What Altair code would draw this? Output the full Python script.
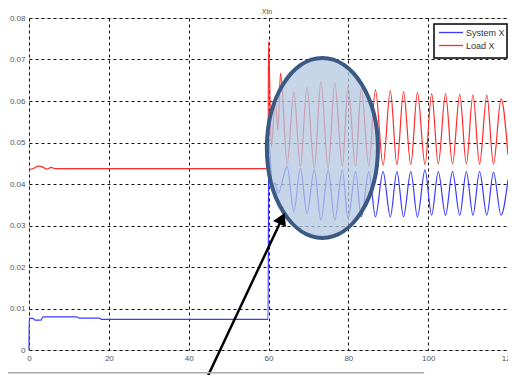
import altair as alt
import pandas as pd

# ---- data ----
sys_t = [0, 0.05, 1.0, 1.5, 3.0, 3.5, 12.0, 12.5, 17.6, 18.2, 59.9, 60.05, 61.0, 61.6, 62.4,
         64.68, 66.34, 67.99, 69.65, 71.47, 73.13, 74.95, 76.60, 78.51, 79.92, 81.82, 83.23,
         85.14, 86.79, 88.70, 90.52, 92.17, 93.83, 95.65, 97.31, 99.21, 100.87, 102.53, 104.35,
         106.09, 107.91, 109.57, 111.22, 112.88, 114.70, 116.36, 118.26, 120.0]
sys_v = [0.0, 0.0076, 0.0076, 0.0072, 0.0072, 0.0080, 0.0080, 0.0077, 0.0077, 0.0074, 0.0074,
         0.0506, 0.0394, 0.0403, 0.0378,
         0.0442, 0.0333, 0.0438, 0.0329, 0.0434, 0.0313, 0.0434, 0.0313, 0.0434, 0.0317, 0.0430,
         0.0321, 0.0430, 0.0321, 0.0430, 0.0321, 0.0430, 0.0321, 0.0430, 0.0321, 0.0434, 0.0325,
         0.0430, 0.0325, 0.0430, 0.0325, 0.0430, 0.0325, 0.0430, 0.0325, 0.0428, 0.0325, 0.0410]

load_t = [0, 0.5, 1.2, 2.3, 3.6, 4.4, 5.6, 6.5, 59.9, 60.0, 60.7, 61.7, 62.36, 63.02,
          64.68, 66.34, 67.99, 69.65, 71.47, 73.13, 74.95, 76.60, 78.51, 79.92, 81.82, 83.23,
          85.14, 86.79, 88.70, 90.52, 92.17, 93.83, 95.65, 97.31, 99.21, 100.87, 102.53, 104.35,
          106.09, 107.91, 109.57, 111.22, 112.88, 114.70, 116.36, 118.26, 120.0]
load_v = [0.0436, 0.0436, 0.0438, 0.0443, 0.0440, 0.0436, 0.0440, 0.0437, 0.0437, 0.0743,
          0.0490, 0.0600, 0.0530, 0.0667,
          0.0448, 0.0622, 0.0442, 0.0632, 0.0437, 0.0647, 0.0437, 0.0643, 0.0442, 0.0635, 0.0443,
          0.0630, 0.0444, 0.0627, 0.0445, 0.0625, 0.0446, 0.0622, 0.0447, 0.0620, 0.0447, 0.0618,
          0.0448, 0.0617, 0.0448, 0.0616, 0.0448, 0.0615, 0.0448, 0.0614, 0.0448, 0.0605, 0.0470]

series_names = ["System X", "Load X"]
series_colors = ["#3b3bff", "#ff2a2a"]
title_text = "Xtn"

x_ticks = [0, 20, 40, 60, 80, 100, 120]
y_ticks = [0, 0.01, 0.02, 0.03, 0.04, 0.05, 0.06, 0.07, 0.08]

# annotation anchors (data units)
ellipse_center = (73.5, 0.0487)
arrow_start = (44.8, -0.0063)
arrow_head = (63.4, 0.0317)
bottom_line = (-7.5, 99.0, -0.0055)

# ---- build table ----
rows = []
for i, (t, v) in enumerate(zip(sys_t, sys_v)):
    rows.append({"t": t, "v": v, "series": "System X", "ord": i})
for i, (t, v) in enumerate(zip(load_t, load_v)):
    rows.append({"t": t, "v": v, "series": "Load X", "ord": i})
df = pd.DataFrame(rows)

xscale = alt.Scale(domain=[0, 120], nice=False, zero=False)
yscale = alt.Scale(domain=[0, 0.08], nice=False, zero=False)

FONT = "Liberation Sans"

lines = alt.Chart(df).mark_line(strokeWidth=1.2, interpolate="monotone").encode(
    x=alt.X("t:Q", scale=xscale,
            axis=alt.Axis(values=x_ticks, title=None, grid=True, gridDash=[3, 3],
                          gridColor="#111", gridWidth=1, ticks=False, domain=False,
                          labelFontSize=8, labelColor="#555", labelPadding=4, labelFont=FONT,
                          labelFlush=False)),
    y=alt.Y("v:Q", scale=yscale,
            axis=alt.Axis(values=y_ticks, title=None, grid=True, gridDash=[3, 3],
                          gridColor="#111", gridWidth=1, ticks=False, domain=False,
                          labelFontSize=8, labelColor="#555", labelPadding=4, labelFont=FONT,
                          labelFlush=False,
                          labelExpr="datum.value == 0 ? '0' : format(datum.value, '.2f')")),
    color=alt.Color("series:N", scale=alt.Scale(domain=series_names, range=series_colors),
                    legend=None),
    order="ord:Q",
)

one = pd.DataFrame({"a": [0]})

# ellipse highlight (custom symbol, cubic-bezier ellipse)
k = 0.5523
rx = 0.617
ell_path = (f"M {rx} 0 C {rx} {k} {rx*k:.4f} 1 0 1 C {-rx*k:.4f} 1 {-rx} {k} {-rx} 0 "
            f"C {-rx} {-k} {-rx*k:.4f} -1 0 -1 C {rx*k:.4f} -1 {rx} {-k} {rx} 0 Z")
ell_df = pd.DataFrame({"t": [ellipse_center[0]], "v": [ellipse_center[1]]})
ellipse = alt.Chart(ell_df).mark_point(
    shape=ell_path, size=32400, filled=True, fill="#b4c7e2", fillOpacity=0.75,
    stroke="#3a5a84", strokeWidth=4, strokeOpacity=1, opacity=1
).encode(x=alt.X("t:Q", scale=xscale), y=alt.Y("v:Q", scale=yscale))

arrow_df = pd.DataFrame({"t": [arrow_start[0]], "v": [arrow_start[1]],
                         "t2": [arrow_head[0]], "v2": [arrow_head[1]]})
arrow_line = alt.Chart(arrow_df).mark_rule(color="black", strokeWidth=2.5).encode(
    x=alt.X("t:Q", scale=xscale), y=alt.Y("v:Q", scale=yscale), x2="t2:Q", y2="v2:Q")
head_df = pd.DataFrame({"t": [arrow_head[0]], "v": [arrow_head[1]]})
arrow_tip = alt.Chart(head_df).mark_point(
    shape="triangle-up", size=200, filled=True, color="black", opacity=1, angle=25
).encode(x=alt.X("t:Q", scale=xscale), y=alt.Y("v:Q", scale=yscale))

bl_df = pd.DataFrame({"t": [bottom_line[0]], "t2": [bottom_line[1]], "v": [bottom_line[2]]})
bline = alt.Chart(bl_df).mark_rule(color="#aaaaaa", strokeWidth=1.5).encode(
    x=alt.X("t:Q", scale=xscale), x2="t2:Q", y=alt.Y("v:Q", scale=yscale))

# title as text just above the plot frame
title = alt.Chart(one).mark_text(text=title_text, align="center", baseline="middle",
                                 fontSize=7, color="#555", font=FONT).encode(
    x=alt.value(238), y=alt.value(-6))

# manual legend (MATLAB style)
leg_box = alt.Chart(one).mark_rect(fill="white", stroke="black", strokeWidth=1.5).encode(
    x=alt.value(405), x2=alt.value(478), y=alt.value(6), y2=alt.value(40))
leg_sys = alt.Chart(one).mark_rule(color=series_colors[0], strokeWidth=1.3).encode(
    x=alt.value(410), x2=alt.value(434), y=alt.value(14.5))
leg_load = alt.Chart(one).mark_rule(color=series_colors[1], strokeWidth=1.3).encode(
    x=alt.value(410), x2=alt.value(434), y=alt.value(27.5))
leg_sys_t = alt.Chart(one).mark_text(text=series_names[0], align="left", baseline="middle",
                                     fontSize=9, color="#333", font=FONT).encode(
    x=alt.value(437), y=alt.value(14.5))
leg_load_t = alt.Chart(one).mark_text(text=series_names[1], align="left", baseline="middle",
                                      fontSize=9, color="#333", font=FONT).encode(
    x=alt.value(437), y=alt.value(27.5))

chart = alt.layer(
    lines, ellipse, arrow_line, arrow_tip, bline, title,
    leg_box, leg_sys, leg_load, leg_sys_t, leg_load_t
).properties(
    width=479, height=332,
    autosize=alt.AutoSizeParams(type="none"),
    padding={"left": 21, "top": 10, "right": 0, "bottom": 25},
).configure_view(
    stroke="#444", strokeWidth=1.5
).configure(background="white")

chart.save("out.html", embed_options={"renderer": "svg", "actions": False})
